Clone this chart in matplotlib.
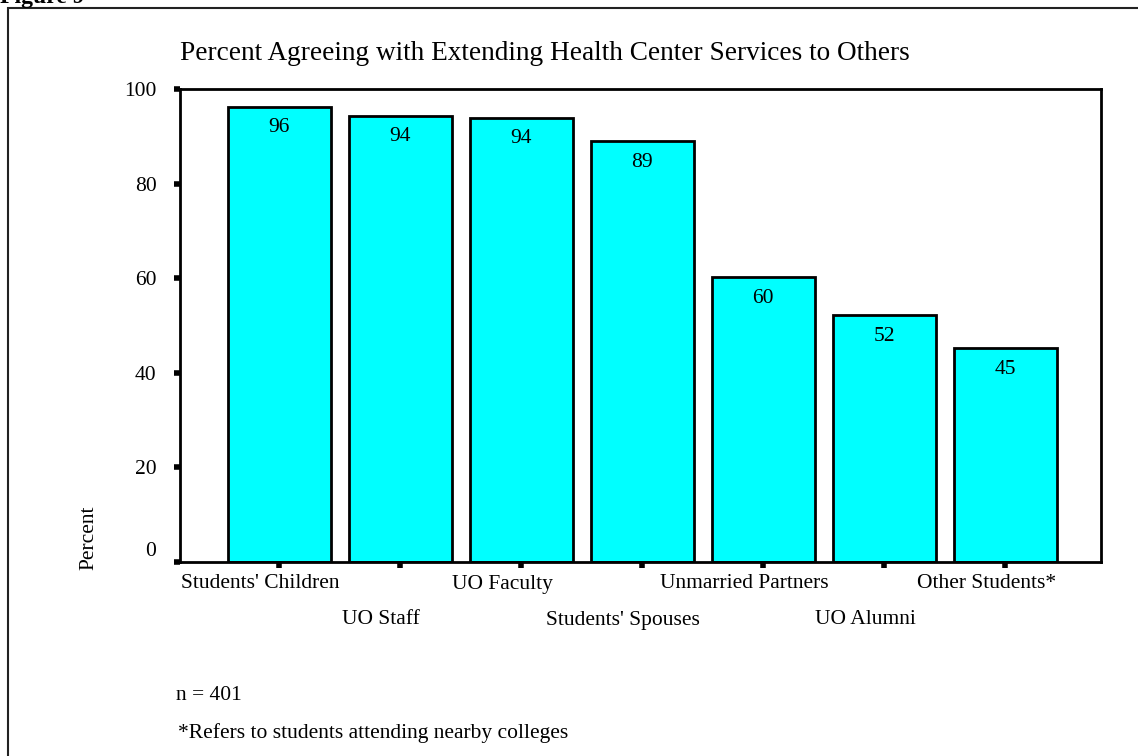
import numpy as np
import matplotlib.pyplot as plt
from matplotlib.patches import Rectangle

plt.rcParams.update({
    "font.family": ["Liberation Serif", "DejaVu Serif"],
    "font.size": 15.5,
})

groups = ["Students' Children", "UO Staff", "UO Faculty", "Students' Spouses",
          "Unmarried Partners", "UO Alumni", "Other Students*"]
pct_agree = [96.3, 94.3, 93.9, 89.0, 60.2, 52.2, 45.2]
y_ticks = [0, 20, 40, 60, 80, 100]
n_resp = 401
title = "Percent Agreeing with Extending Health Center Services to Others"
footnote = "*Refers to students attending nearby colleges"


def make_bar_plot():
    fig = plt.figure(figsize=(11.38, 7.56), dpi=100)
    ax = fig.add_axes([180 / 1138, 1 - 562 / 756, 921 / 1138, 473 / 756])

    x = np.arange(len(groups))
    ax.bar(x, pct_agree, width=0.85, color='#00ffff', edgecolor='black',
           linewidth=2, zorder=2)

    # value labels just inside the top of each bar
    for xi, v in zip(x, pct_agree):
        ax.annotate(f'{v:.0f}', xy=(xi, v), xytext=(0, -21),
                    textcoords='offset pixels',
                    ha='center', va='center', fontsize=15.5)

    ax.set_xlim(-0.82, 6.79)
    ax.set_ylim(0, 100)
    ax.set_yticks(y_ticks)
    # the zero label is nudged up off the x axis, drawn by hand below
    ax.set_yticklabels([''] + [str(t) for t in y_ticks[1:]])
    ax.set_xticks(x)
    ax.set_xticklabels([])
    ax.tick_params(axis='both', direction='out', length=4, width=4,
                   color='black', labelsize=15.5)
    ax.tick_params(axis='y', pad=13)
    for sp in ax.spines.values():
        sp.set_linewidth(2)
        sp.set_color('black')

    ax.annotate(str(y_ticks[0]), xy=(0, 0), xycoords='axes fraction',
                xytext=(-24, 11), textcoords='offset pixels',
                ha='right', va='center', fontsize=15.5, annotation_clip=False)

    # staggered category labels under the axis
    for xi, name in zip(x, groups):
        y_off = -22 if xi % 2 == 0 else -58
        ax.annotate(name, xy=(xi, 0), xytext=(-19, y_off),
                    textcoords='offset pixels', ha='center', va='center',
                    fontsize=15.5, annotation_clip=False)

    fig.text(89 / 1138, 1 - 538 / 756, 'Percent', rotation=90,
             ha='center', va='center', fontsize=15.5)
    fig.text(180 / 1138, 1 - 53 / 756, title, ha='left', va='center',
             fontsize=19.6)
    fig.text(176 / 1138, 1 - 696 / 756, f'n = {n_resp}', ha='left',
             va='center', fontsize=15.5)
    fig.text(178 / 1138, 1 - 733 / 756, footnote, ha='left', va='center',
             fontsize=15.5)

    # heading sits partly above the page edge
    fig.text(0.0, 1 - 3 / 756, 'Figure 9', ha='left', va='baseline',
             fontsize=17, fontweight='bold')

    # outer frame around the chart area
    fig.patches.append(Rectangle((8 / 1138, -0.1), 1.2, 1.1 - 8 / 756,
                                 transform=fig.transFigure, fill=False,
                                 edgecolor='#222222', linewidth=1.5))

    fig.savefig('out.png', dpi=100)


if __name__ == "__main__":
    make_bar_plot()
